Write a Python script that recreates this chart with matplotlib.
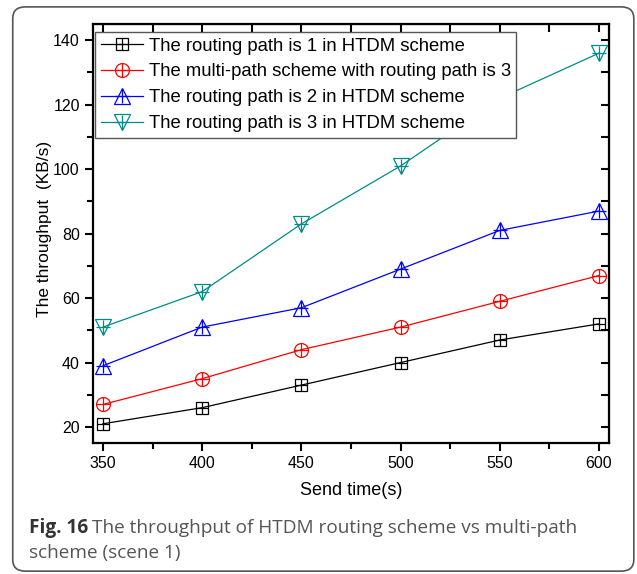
import matplotlib
matplotlib.use("Agg")
import matplotlib.pyplot as plt
from matplotlib.patches import FancyBboxPatch
from matplotlib.legend_handler import HandlerTuple
from matplotlib.ticker import MultipleLocator

# データ
send_time = [350, 400, 450, 500, 550, 600]
path1 = [21, 26, 33, 40, 47, 52]
multi_path = [27, 35, 44, 51, 59, 67]
path2 = [39, 51, 57, 69, 81, 87]
path3 = [51, 62, 83, 101, 122, 136]

labels = [
    "The routing path is 1 in HTDM scheme",
    "The multi-path scheme with routing path is 3",
    "The routing path is 2 in HTDM scheme",
    "The routing path is 3 in HTDM scheme",
]
series = [path1, multi_path, path2, path3]
colors = ["black", "red", "blue", "#008b8b"]
markers = ["s", "o", "^", "v"]
msizes = [9, 10, 11, 11]

plt.rcParams["font.family"] = ["Liberation Sans", "DejaVu Sans"]

fig = plt.figure(figsize=(6.37, 5.74), dpi=100)
ax = fig.add_axes([0.146, 0.228, 0.81, 0.73])

handles = []
for ys, c, m, ms in zip(series, colors, markers, msizes):
    ln, = ax.plot(send_time, ys, color=c, lw=0.9, marker=m, ms=ms,
                  mfc="none", mec=c, mew=0.9)
    pl, = ax.plot(send_time, ys, ls="none", marker="+", ms=ms * 0.95,
                  mec=c, mew=0.9)
    handles.append((ln, pl))

ax.set_xlim(345, 605)
ax.set_ylim(15, 145)
ax.xaxis.set_major_locator(MultipleLocator(50))
ax.xaxis.set_minor_locator(MultipleLocator(25))
ax.yaxis.set_major_locator(MultipleLocator(20))
ax.yaxis.set_minor_locator(MultipleLocator(10))
ax.tick_params(which="both", direction="out", width=1.5, labelsize=11.5)
ax.tick_params(which="major", length=6)
ax.tick_params(which="minor", length=4)
for s in ax.spines.values():
    s.set_linewidth(1.6)

# 上と右は内向きの目盛り
top = ax.secondary_xaxis("top")
top.xaxis.set_major_locator(MultipleLocator(50))
top.xaxis.set_minor_locator(MultipleLocator(25))
top.tick_params(which="both", direction="in", width=1.5, labeltop=False)
top.tick_params(which="major", length=6)
top.tick_params(which="minor", length=6)
right = ax.secondary_yaxis("right")
right.yaxis.set_major_locator(MultipleLocator(20))
right.yaxis.set_minor_locator(MultipleLocator(10))
right.tick_params(which="both", direction="in", width=1.5, labelright=False)
right.tick_params(which="major", length=6)
right.tick_params(which="minor", length=6)

ax.set_xlabel("Send time(s)", fontsize=13, labelpad=8)
ax.set_ylabel("The throughput  (KB/s)", fontsize=12.5)
ax.yaxis.set_label_coords(-0.08, 0.51)

leg = ax.legend(handles, labels, loc="upper left",
                bbox_to_anchor=(95 / 637, 1 - 32 / 574),
                bbox_transform=fig.transFigure, fontsize=13.3,
                handler_map={tuple: HandlerTuple(ndivide=1)},
                handlelength=2.3, handletextpad=0.3, labelspacing=0.48,
                borderpad=0.3, borderaxespad=0, fancybox=False,
                edgecolor="#555555", framealpha=1)
leg.get_frame().set_linewidth(1.0)

# 外枠
border = FancyBboxPatch((0.02, 0.005), 0.975, 0.983, transform=fig.transFigure,
                        boxstyle="round,pad=0,rounding_size=0.02",
                        fc="none", ec="#555555", lw=1.2)
fig.patches.append(border)

# キャプション
cap_font = ["Open Sans", "DejaVu Sans"]
t1 = fig.text(0.045, 0.081, "Fig. 16", fontsize=13.7, fontweight="bold",
              color="#333333", family=cap_font, va="center")
fig.canvas.draw()
bb = t1.get_window_extent().transformed(fig.transFigure.inverted())
fig.text(bb.x1 + 0.007, 0.081,
         "The throughput of HTDM routing scheme vs multi-path",
         fontsize=13.7, color="#555555", family=cap_font, va="center")
fig.text(0.045, 0.036, "scheme (scene 1)", fontsize=13.7, color="#555555",
         family=cap_font, va="center")

fig.savefig("out.png", dpi=100)
